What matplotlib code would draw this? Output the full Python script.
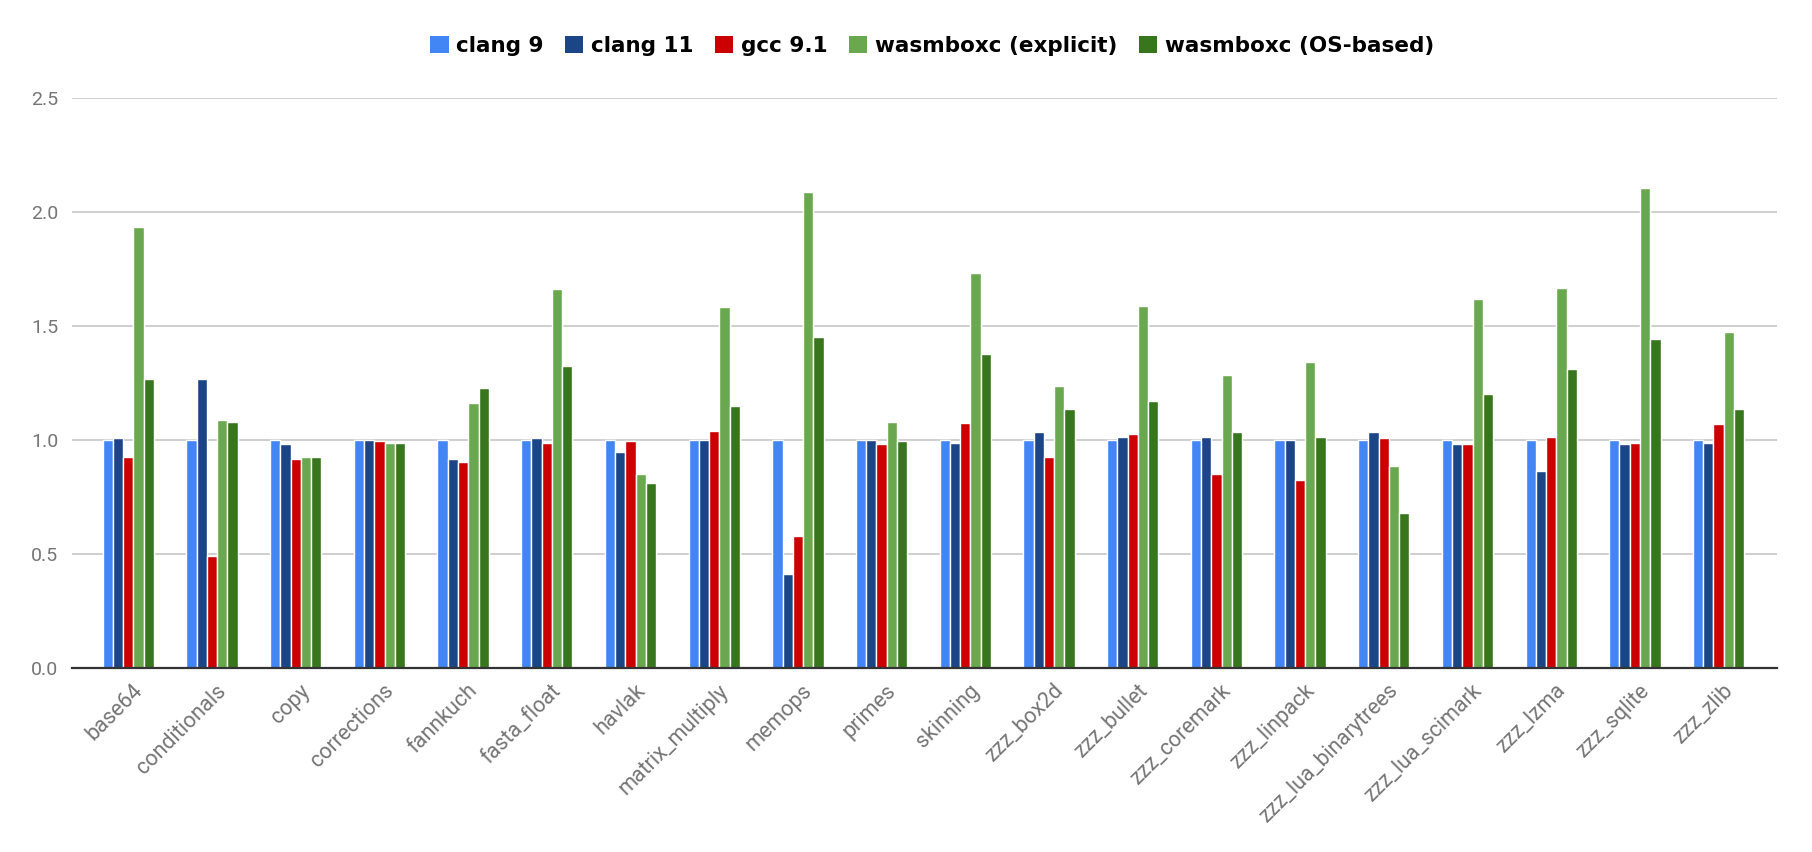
import numpy as np
import matplotlib
matplotlib.use("Agg")
import matplotlib.pyplot as plt
import matplotlib.transforms as mtransforms

benchmarks = ["base64", "conditionals", "copy", "corrections", "fannkuch",
              "fasta_float", "havlak", "matrix_multiply", "memops", "primes",
              "skinning", "zzz_box2d", "zzz_bullet", "zzz_coremark",
              "zzz_linpack", "zzz_lua_binarytrees", "zzz_lua_scimark",
              "zzz_lzma", "zzz_sqlite", "zzz_zlib"]

clang9 = [1.0] * 20
clang11 = [1.007, 1.266, 0.983, 1.0, 0.916, 1.007, 0.949, 1.0, 0.414, 1.0,
           0.988, 1.033, 1.015, 1.015, 1.0, 1.033, 0.983, 0.865, 0.983, 0.988]
gcc91 = [0.927, 0.491, 0.916, 0.994, 0.904, 0.988, 0.994, 1.041, 0.577, 0.983,
         1.073, 0.924, 1.028, 0.850, 0.824, 1.007, 0.983, 1.015, 0.988, 1.068]
wasm_explicit = [1.936, 1.087, 0.927, 0.988, 1.164, 1.661, 0.850, 1.582, 2.086, 1.080,
                 1.731, 1.238, 1.588, 1.284, 1.342, 0.884, 1.620, 1.665, 2.107, 1.475]
wasm_os = [1.266, 1.080, 0.927, 0.988, 1.227, 1.325, 0.811, 1.151, 1.450, 0.995,
           1.377, 1.138, 1.170, 1.033, 1.015, 0.680, 1.200, 1.311, 1.441, 1.135]

series_names = ["clang 9", "clang 11", "gcc 9.1", "wasmboxc (explicit)", "wasmboxc (OS-based)"]
series_colors = ["#4285f4", "#1c4587", "#cc0000", "#6aa84f", "#38761d"]
series_values = [clang9, clang11, gcc91, wasm_explicit, wasm_os]

fig = plt.figure(figsize=(18.12, 8.52), dpi=100)
ax = fig.add_axes([72 / 1812, 184 / 852, (1777 - 72) / 1812, 570 / 852])

x = np.arange(len(benchmarks))
bar_w = 0.1226
for i, (name, vals, col) in enumerate(zip(series_names, series_values, series_colors)):
    ax.bar(x + (i - 2) * bar_w, vals, width=bar_w, color=col, label=name,
           edgecolor="white", linewidth=1.0, zorder=3)

ax.set_xlim(-0.673, 19.698)
ax.set_ylim(0, 2.5)
ax.set_yticks([0.0, 0.5, 1.0, 1.5, 2.0, 2.5])
ax.set_yticklabels(["0.0", "0.5", "1.0", "1.5", "2.0", "2.5"])
ax.grid(axis="y", color="#cccccc", linewidth=1.3, zorder=0)
ax.set_axisbelow(True)

for side in ["top", "right", "left"]:
    ax.spines[side].set_visible(False)
ax.spines["bottom"].set_color("#333333")
ax.spines["bottom"].set_linewidth(1.6)
ax.spines["bottom"].set_zorder(4)

ax.tick_params(axis="y", length=0, pad=10, labelsize=14, labelcolor="#757575")
ax.tick_params(axis="x", length=0, pad=6, labelsize=15.5, labelcolor="#757575")
ax.set_xticks(x)
ax.set_xticklabels(benchmarks, rotation=45, ha="right", rotation_mode="anchor")
offset = mtransforms.ScaledTranslation(4 / 100, -4 / 100, fig.dpi_scale_trans)
for lab in ax.get_xticklabels():
    lab.set_transform(lab.get_transform() + offset)
for lab in ax.get_yticklabels() + ax.get_xticklabels():
    lab.set_fontfamily(["Roboto", "DejaVu Sans"])

leg = fig.legend(loc="center", bbox_to_anchor=(932 / 1812, 1 - 46 / 852), ncol=5,
                 frameon=False, prop={"family": "DejaVu Sans", "weight": "bold", "size": 15.5},
                 handlelength=0.85, handleheight=0.85, handletextpad=0.35, columnspacing=1.0)
for h in leg.legend_handles:
    h.set_edgecolor("none")

fig.savefig("out.png", dpi=100, facecolor="white")
